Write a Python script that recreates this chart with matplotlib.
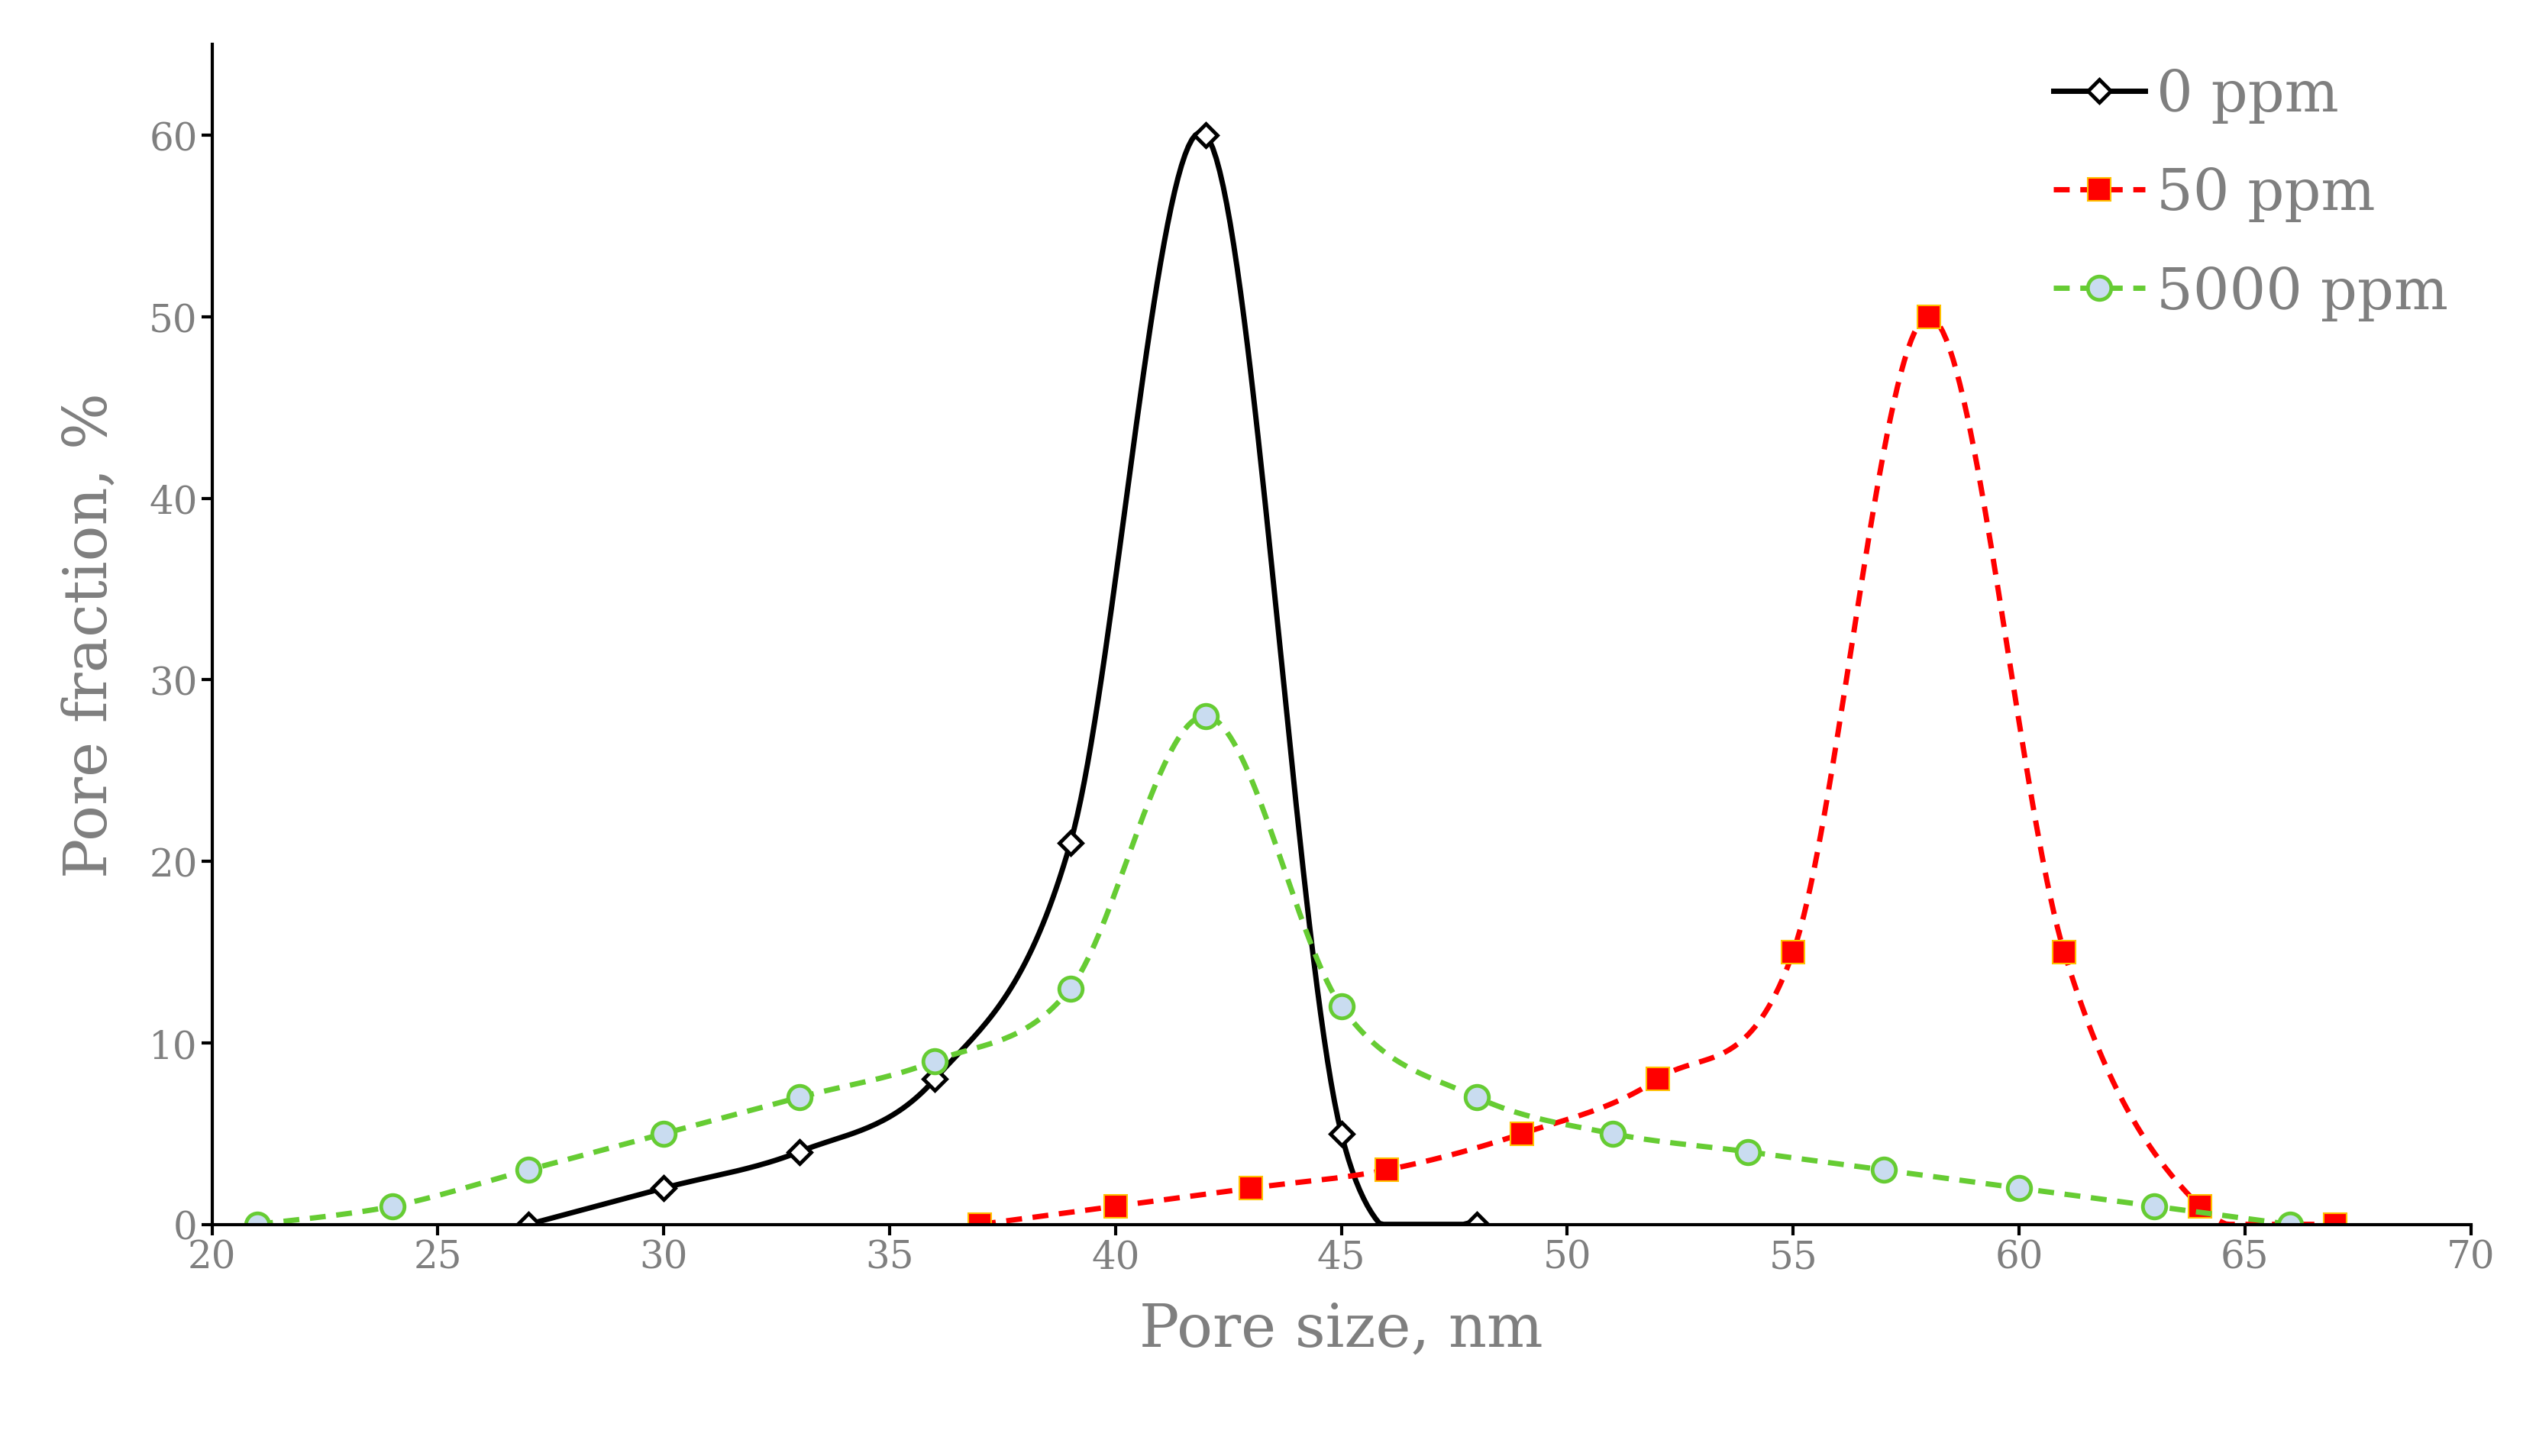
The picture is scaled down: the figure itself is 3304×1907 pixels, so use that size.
import numpy as np
import matplotlib.pyplot as plt

x0 = [27, 30, 33, 36, 39, 42, 45, 48]
y0 = [0, 2, 4, 8, 21, 60, 5, 0]
x50 = [37, 40, 43, 46, 49, 52, 55, 58, 61, 64, 67]
y50 = [0, 1, 2, 3, 5, 8, 15, 50, 15, 1, 0]
x5000 = [21, 24, 27, 30, 33, 36, 39, 42, 45, 48, 51, 54, 57, 60, 63, 66]
y5000 = [0, 1, 3, 5, 7, 9, 13, 28, 12, 7, 5, 4, 3, 2, 1, 0]


def smooth(x, y, n=40):
    # Catmull-Rom like Excel's smoothed line
    p = np.column_stack([x, y]).astype(float)
    p = np.vstack([p[0], p, p[-1]])
    out = []
    t = np.linspace(0, 1, n)[:, None]
    for i in range(1, len(p) - 2):
        p0, p1, p2, p3 = p[i - 1], p[i], p[i + 1], p[i + 2]
        m1 = (p2 - p0) / 2
        m2 = (p3 - p1) / 2
        h00 = 2 * t**3 - 3 * t**2 + 1
        h10 = t**3 - 2 * t**2 + t
        h01 = -2 * t**3 + 3 * t**2
        h11 = t**3 - t**2
        out.append(h00 * p1 + h10 * m1 + h01 * p2 + h11 * m2)
    s = np.vstack(out)
    return s[:, 0], np.clip(s[:, 1], 0, None)


plt.rcParams['font.family'] = ['DejaVu Serif']
gray = '#7f7f7f'
fig = plt.figure(figsize=(33.05, 19.08), dpi=100)
ax = fig.add_axes([0.084, 0.159, 0.895, 0.81])

sx, sy = smooth(x0, y0)
ax.plot(sx, sy, color='black', lw=5)
ax.plot(x0, y0, ls='none', marker='D', ms=15, mfc='white', mec='black', mew=3.5)
ax.plot([], [], color='black', lw=5, marker='D', ms=15, mfc='white', mec='black', mew=3.5, label='0 ppm')

sx, sy = smooth(x50, y50)
ax.plot(sx, sy, color='#ff0000', lw=5, ls=(0, (3, 2)))
ax.plot(x50, y50, ls='none', marker='s', ms=22, mfc='#ff0000', mec='#ffc000', mew=1.5)
ax.plot([], [], color='#ff0000', lw=5, ls=(0, (3, 2)), marker='s', ms=22, mfc='#ff0000', mec='#ffc000', mew=1.5, label='50 ppm')

sx, sy = smooth(x5000, y5000)
ax.plot(sx, sy, color='#66cc33', lw=5, ls=(0, (3, 2)))
ax.plot(x5000, y5000, ls='none', marker='o', ms=22, mfc='#c9dcf0', mec='#66cc33', mew=3.5)
ax.plot([], [], color='#66cc33', lw=5, ls=(0, (3, 2)), marker='o', ms=22, mfc='#c9dcf0', mec='#66cc33', mew=3.5, label='5000 ppm')

ax.set_xlim(20, 70)
ax.set_ylim(0, 65)
ax.set_xticks(range(20, 71, 5))
ax.set_yticks(range(0, 61, 10))
ax.spines['top'].set_visible(False)
ax.spines['right'].set_visible(False)
for s in ['left', 'bottom']:
    ax.spines[s].set_linewidth(3)
ax.tick_params(labelsize=36, width=3, length=10, colors='black', labelcolor=gray)
ax.set_xlabel('Pore size, nm', fontsize=56, color=gray, labelpad=22)
ax.set_ylabel('Pore fraction, %', fontsize=56, color=gray, labelpad=28)
ax.legend(loc='upper right', frameon=False, fontsize=54, labelcolor=gray,
          handlelength=1.6, labelspacing=0.75, borderaxespad=0.0, handletextpad=0.2)

fig.savefig('out.png')
